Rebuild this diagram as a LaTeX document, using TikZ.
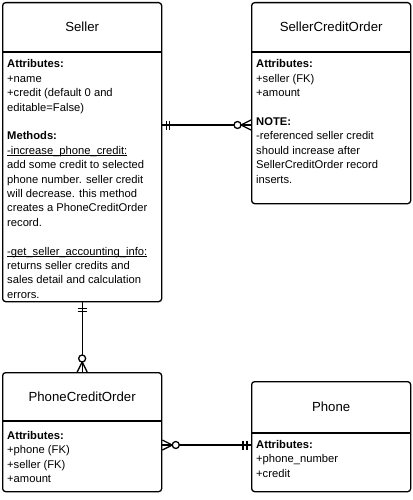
\documentclass[tikz,border=0pt]{standalone}
\usepackage{fontspec}
\setmainfont{Liberation Sans}
\usetikzlibrary{positioning, calc}

\newcommand{\methodname}[1]{\underline{\smash{#1}}}

\tikzset{
  entity/.style={draw, line width=1.3pt, rounded corners=3pt, anchor=north west, inner sep=0pt, fill=white},
  title/.style={font=\fontsize{13.2}{16}\selectfont},
  body/.style={anchor=north west, align=left, inner sep=0pt, font=\fontsize{11.2}{14.4}\selectfont},
  rel/.style={line width=1.3pt},
}

\begin{document}
\begin{tikzpicture}[x=1pt, y=-1pt]
    \useasboundingbox (0,0) rectangle (412,500);

    % Entity boxes
    \node[entity, minimum width=159pt, minimum height=299pt] (seller) at (2,2) {};
    \node[entity, minimum width=159pt, minimum height=201pt] (sco) at (251,2) {};
    \node[entity, minimum width=159pt, minimum height=119pt] (pco) at (2,372) {};
    \node[entity, minimum width=159pt, minimum height=110pt] (phone) at (251,381) {};

    % Header dividers
    \draw[rel] ($(seller.north west)+(0,50)$) -- ($(seller.north east)+(0,50)$);
    \draw[rel] ($(sco.north west)+(0,50)$) -- ($(sco.north east)+(0,50)$);
    \draw[rel] ($(pco.north west)+(0,49)$) -- ($(pco.north east)+(0,49)$);
    \draw[rel] ($(phone.north west)+(0,52)$) -- ($(phone.north east)+(0,52)$);

    % Titles
    \node[title] (sellerT) at ($(seller.north)+(0,25)$) {Seller};
    \node[title] (scoT) at ($(sco.north)+(0,25)$) {SellerCreditOrder};
    \node[title] (pcoT) at ($(pco.north)+(0,25)$) {PhoneCreditOrder};
    \node[title] (phoneT) at ($(phone.north)+(0,26)$) {Phone};

    % Seller body
    \node[body] (sellerB) at ($(seller.north west)+(5,57.5)$) {%
      \textbf{Attributes:}\\
      +name\\
      +credit (default 0 and\\
      editable=False)\\[14.4pt]
      \textbf{Methods:}\\
      \methodname{-increase\_phone\_credit:}\\
      add some credit to selected\\
      phone number. seller credit\\
      will decrease. this method\\
      creates a PhoneCreditOrder\\
      record.\\[14.4pt]
      \methodname{-get\_seller\_accounting\_info:}\\
      returns seller credits and\\
      sales detail and calculation\\
      errors.};

    % SellerCreditOrder body
    \node[body] (scoB) at ($(sco.north west)+(5,57.5)$) {%
      \textbf{Attributes:}\\
      +seller (FK)\\
      +amount\\[14.4pt]
      \textbf{NOTE:}\\
      -referenced seller credit\\
      should increase after\\
      SellerCreditOrder record\\
      inserts.};

    % PhoneCreditOrder body
    \node[body] (pcoB) at ($(pco.north west)+(5,59)$) {%
      \textbf{Attributes:}\\
      +phone (FK)\\
      +seller (FK)\\
      +amount};

    % Phone body
    \node[body] (phoneB) at ($(phone.north west)+(5,59)$) {%
      \textbf{Attributes:}\\
      +phone\_number\\
      +credit};

    % Seller -- SellerCreditOrder
    \coordinate (s1) at ($(seller.north east)+(0,123)$);
    \coordinate (s2) at (s1 -| sco.west);
    \draw[rel] (s1) -- (s2);
    \draw[rel] ($(s1)+(4,-4.5)$) -- ++(0,9) ($(s1)+(7,-4.5)$) -- ++(0,9);
    \draw[rel] ($(s2)+(-10,0)$) -- ($(s2)+(0,-5)$) ($(s2)+(-10,0)$) -- ($(s2)+(0,5)$);
    \draw[rel, fill=white] ($(s2)+(-13.5,0)$) circle (3.5);

    % Seller -- PhoneCreditOrder
    \coordinate (p1) at (seller.south);
    \coordinate (p2) at (p1 |- pco.north);
    \draw[rel] (p1) -- (p2);
    \draw[rel] ($(p1)+(-4.5,6)$) -- ++(9,0) ($(p1)+(-4.5,9)$) -- ++(9,0);
    \draw[rel] ($(p2)+(0,-10)$) -- ($(p2)+(-5,0)$) ($(p2)+(0,-10)$) -- ($(p2)+(5,0)$);
    \draw[rel, fill=white] ($(p2)+(0,-13.5)$) circle (3.5);

    % PhoneCreditOrder -- Phone
    \coordinate (q1) at ($(pco.north east)+(0,73)$);
    \coordinate (q2) at (q1 -| phone.west);
    \draw[rel] (q1) -- (q2);
    \draw[rel] ($(q1)+(10,0)$) -- ($(q1)+(0,-5)$) ($(q1)+(10,0)$) -- ($(q1)+(0,5)$);
    \draw[rel, fill=white] ($(q1)+(13.5,0)$) circle (3.5);
    \draw[rel] ($(q2)+(-8,-4.5)$) -- ++(0,9) ($(q2)+(-4,-4.5)$) -- ++(0,9);
  \end{tikzpicture}
\end{document}
